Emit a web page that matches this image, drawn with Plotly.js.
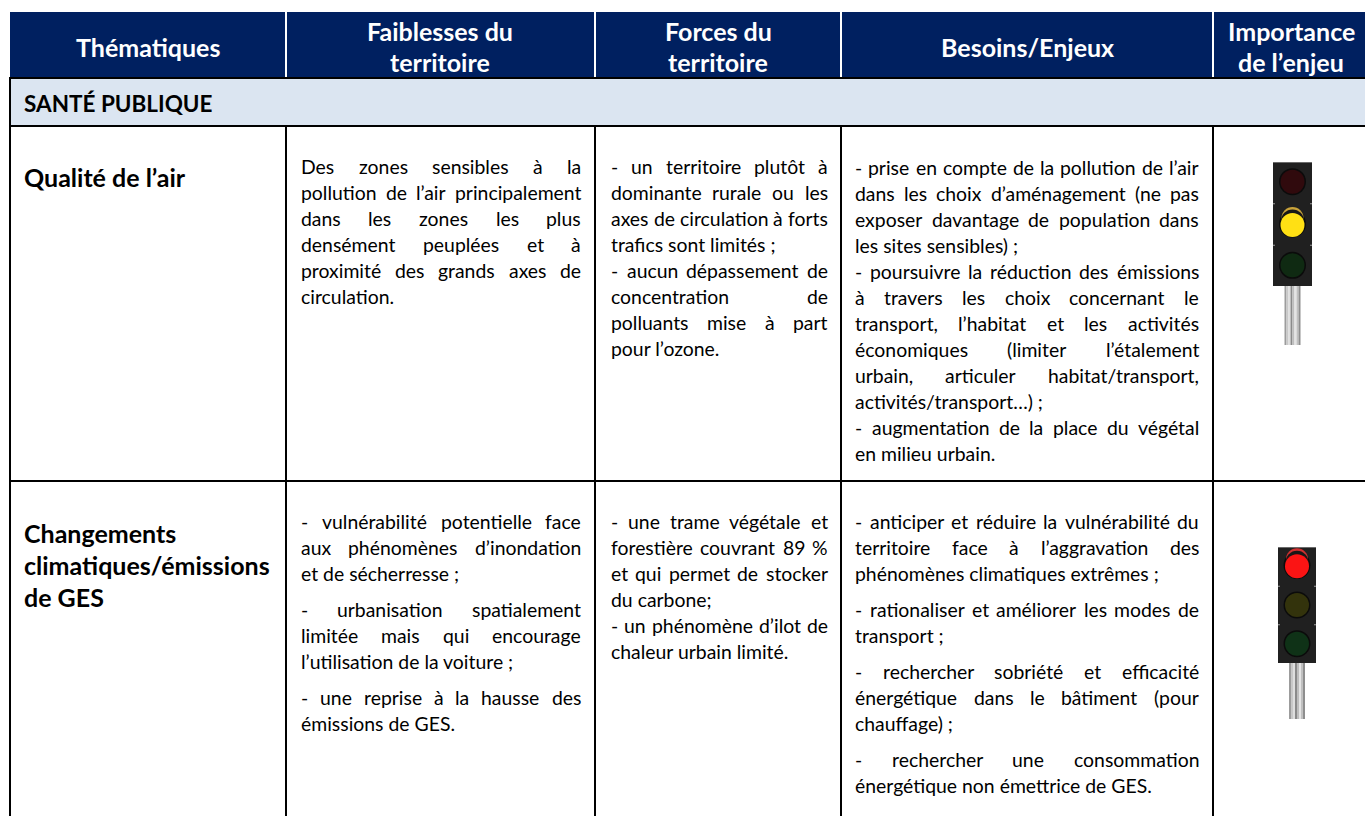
<!DOCTYPE html>
<html lang="fr">
<head>
<meta charset="utf-8">
<title>Santé publique</title>
<script src="https://cdn.plot.ly/plotly-3.0.1.min.js"></script>
<style>html,body{margin:0;padding:0;background:#fff;overflow:hidden}#t{width:1365px;height:816px}</style>
</head>
<body>
<div id="t"></div>
<script>
// ---------- content ----------
const headers = [["Thématiques"], ["Faiblesses du", "territoire"], ["Forces du", "territoire"], ["Besoins/Enjeux"], ["Importance", "de l’enjeu"]];
const section = "SANTÉ PUBLIQUE";
const themeAir = ["Qualité de l’air"];
const themeClimate = ["Changements", "climatiques/émissions", "de GES"];
const weaknessAir = [
  "Des zones sensibles à la", "pollution de l’air principalement", "dans les zones les plus",
  "densément peuplées et à", "proximité des grands axes de", "circulation."];
const strengthAir = [
  "- un territoire plutôt à", "dominante rurale ou les", "axes de circulation à forts", "trafics sont limités ;",
  "- aucun dépassement de", "concentration de", "polluants mise à part", "pour l’ozone."];
const needsAir = [
  "- prise en compte de la pollution de l’air", "dans les choix d’aménagement (ne pas",
  "exposer davantage de population dans", "les sites sensibles) ;",
  "- poursuivre la réduction des émissions", "à travers les choix concernant le",
  "transport, l’habitat et les activités", "économiques (limiter l’étalement",
  "urbain, articuler habitat/transport,", "activités/transport…) ;",
  "- augmentation de la place du végétal", "en milieu urbain."];
const weaknessClimate = [
  "- vulnérabilité potentielle face", "aux phénomènes d’inondation", "et de sécherresse ;",
  "- urbanisation spatialement", "limitée mais qui encourage", "l’utilisation de la voiture ;",
  "- une reprise à la hausse des", "émissions de GES."];
const strengthClimate = [
  "- une trame végétale et", "forestière couvrant 89 %", "et qui permet de stocker", "du carbone;",
  "- un phénomène d’ilot de", "chaleur urbain limité."];
const needsClimate = [
  "- anticiper et réduire la vulnérabilité du", "territoire face à l’aggravation des", "phénomènes climatiques extrêmes ;",
  "- rationaliser et améliorer les modes de", "transport ;",
  "- rechercher sobriété et efficacité", "énergétique dans le bâtiment (pour", "chauffage) ;",
  "- rechercher une consommation", "énergétique non émettrice de GES."];

// ---------- geometry and style ----------
const W = 1365, H = 816;
const colEdges = [10, 286, 595, 841, 1213, 1365];
const headerCx = [147.5, 440, 718, 1027, 1291];
const rowY = {top: 12, head: 78, sect: 126, r1: 481, bottom: 816};
const colText = [[300, 580], [610, 827], [854, 1198]];
const FONT = "Lato, Carlito, sans-serif", FS = 19.4, PITCH = 26;
const shapes = [], annotations = [];
const ctx = document.createElement("canvas").getContext("2d");
ctx.font = FS + "px Lato";

function rect(x0, y0, x1, y1, fill) {
  shapes.push({type: "rect", xref: "x", yref: "y", x0, y0, x1, y1, fillcolor: fill, line: {width: 0}, layer: "below"});
}
function seg(x0, y0, x1, y1, color, width) {
  shapes.push({type: "line", xref: "x", yref: "y", x0, y0, x1, y1, line: {color, width}, layer: "below"});
}
function circle(cx, cy, r, fill) {
  shapes.push({type: "circle", xref: "x", yref: "y", x0: cx - r, y0: cy - r, x1: cx + r, y1: cy + r, fillcolor: fill, line: {width: 0}, layer: "below"});
}
function label(text, x, y, opt) {
  opt = opt || {};
  annotations.push({
    text, x, y, xref: "x", yref: "y", showarrow: false, borderpad: 0,
    xanchor: opt.anchor || "left", yanchor: "middle", align: opt.anchor === "center" ? "center" : "left",
    font: {family: FONT, size: opt.size || FS, color: opt.color || "#000", weight: opt.bold ? 700 : 400}
  });
}
function justified(line, x0, x1, y) {
  if (/[;.]$/.test(line)) { label(line, x0, y); return; }
  const words = line.split(" ");
  const widths = words.map(w => ctx.measureText(w).width);
  const gap = (x1 - x0 - widths.reduce((a, b) => a + b, 0)) / (words.length - 1);
  let x = x0;
  words.forEach((w, i) => { label(w, x, y); x += widths[i] + gap; });
}
function block(lines, [x0, x1], y0, paraGap) {
  let y = y0;
  lines.forEach(line => {
    justified(line, x0, x1, y);
    y += PITCH + (/[;.]$/.test(line) ? paraGap : 0);
  });
}

// backgrounds
rect(colEdges[0], rowY.top, W, rowY.head, "#002060");
rect(colEdges[0], rowY.head, W, rowY.sect, "#dbe5f1");
// header white separators
colEdges.slice(1, 5).forEach(x => seg(x, rowY.top, x, rowY.head, "#ffffff", 2));
// black grid
[rowY.head, rowY.sect, rowY.r1].forEach(y => seg(colEdges[0] - 1, y, W, y, "#000", 2));
seg(colEdges[0], rowY.head, colEdges[0], rowY.bottom, "#000", 2);
colEdges.slice(1, 5).forEach(x => seg(x, rowY.sect, x, rowY.bottom, "#000", 2));

// header text
const headerY = [[47], [31, 62]];
headers.forEach((h, i) => {
  h.forEach((t, j) => label(t, headerCx[i], headerY[h.length - 1][j], {anchor: "center", size: 25, color: "#fff", bold: true}));
});
label(section, 23, 103, {size: 22.5, bold: true});
themeAir.forEach((t, j) => label(t, 23, 177 + j * 32, {size: 25, bold: true}));
themeClimate.forEach((t, j) => label(t, 23, 533 + j * 32, {size: 25, bold: true}));

// body text
block(weaknessAir, colText[0], 166, 0);
block(strengthAir, colText[1], 166, 0);
block(needsAir, colText[2], 167, 0);
block(weaknessClimate, colText[0], 521, 10);
block(strengthClimate, colText[1], 521, 0);
block(needsClimate, colText[2], 521, 10);

// traffic lights
const poleShades = ["#9c9c9c", "#c8c8c8", "#dedede", "#8a8a8a", "#bdbdbd", "#e4e4e4", "#c0c0c0", "#8e8e8e"];
function lamp(cx, cy, on, hood, dark) {
  circle(cx, cy, 13.5, "#0b0b0b");
  if (on) {
    circle(cx, cy - 6, 11, hood);
    circle(cx, cy - 3, 11.5, "#171717");
    circle(cx, cy + 1, 12, on);
  } else {
    circle(cx, cy, 12, dark);
  }
}
function light(x0, x1, top, bottom, poleEnd, lamps) {
  const cx = (x0 + x1) / 2, pw = 2;
  poleShades.forEach((c, i) => rect(cx - 8 + i * pw, bottom - 2, cx - 8 + (i + 1) * pw, poleEnd, c));
  rect(x0, top, x1, bottom, "#202020");
  rect(x0, top, x1, top + 1, "#6a6a6a");
  const h = (bottom - top) / 3;
  lamps.forEach((l, i) => lamp(cx, top + h * (i + 0.5) - (i === 0 ? 1 : 0), l[0], l[1], l[2]));
  [1, 2].forEach(i => {
    rect(x0, top + h * i, x0 + 2, top + h * i + 1, "#9a9a9a");
    rect(x1 - 2, top + h * i, x1, top + h * i + 1, "#9a9a9a");
  });
}
light(1273, 1312, 162, 286, 345, [[null, null, "#300a0d"], ["#ffe014", "#c8a23a", null], [null, null, "#0f2a12"]]);
light(1278, 1316, 547, 663, 719, [["#fb1414", "#d03030", null], [null, null, "#33330c"], [null, null, "#0f3217"]]);

Plotly.newPlot("t", [], {
  width: W, height: H, margin: {l: 0, r: 0, t: 0, b: 0},
  paper_bgcolor: "#fff", plot_bgcolor: "#fff", showlegend: false,
  xaxis: {range: [0, W], visible: false, fixedrange: true},
  yaxis: {range: [H, 0], visible: false, fixedrange: true},
  shapes, annotations
}, {staticPlot: true, displayModeBar: false});
</script>
</body>
</html>
